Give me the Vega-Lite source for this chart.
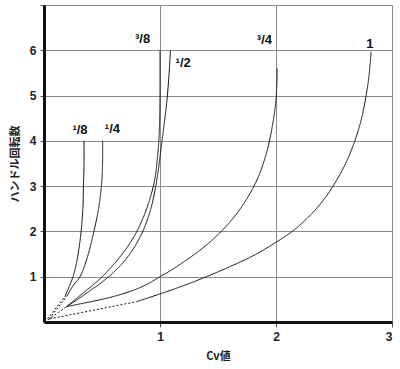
{
  "$schema": "https://vega.github.io/schema/vega-lite/v6.json",
  "width": 348,
  "height": 317,
  "autosize": "none",
  "padding": {"left": 44, "top": 5, "right": 8, "bottom": 47},
  "background": "white",
  "config": {
    "view": {"stroke": "#8a8a8a", "strokeWidth": 1},
    "axis": {
      "grid": true,
      "gridColor": "#8a8a8a",
      "gridWidth": 1,
      "gridOpacity": 1,
      "domainColor": "#111",
      "domainWidth": 3,
      "tickColor": "#555",
      "tickSize": 5,
      "labelFont": "Liberation Sans",
      "labelFontWeight": "bold",
      "labelFontSize": 12,
      "labelColor": "#222",
      "titleFont": "Noto Sans CJK JP",
      "titleFontWeight": "bold",
      "titleFontSize": 11,
      "titleColor": "#222"
    }
  },
  "datasets": {
    "curves": [
      {"series": "1/8", "part": "dotted", "x": 0.03, "y": 0.07},
      {"series": "1/8", "part": "dotted", "x": 0.18, "y": 0.56},
      {"series": "1/8", "part": "solid", "x": 0.18, "y": 0.56},
      {"series": "1/8", "part": "solid", "x": 0.22, "y": 0.8},
      {"series": "1/8", "part": "solid", "x": 0.25, "y": 1.0},
      {"series": "1/8", "part": "solid", "x": 0.28, "y": 1.3},
      {"series": "1/8", "part": "solid", "x": 0.30, "y": 1.6},
      {"series": "1/8", "part": "solid", "x": 0.32, "y": 2.0},
      {"series": "1/8", "part": "solid", "x": 0.335, "y": 2.5},
      {"series": "1/8", "part": "solid", "x": 0.34, "y": 3.0},
      {"series": "1/8", "part": "solid", "x": 0.345, "y": 3.5},
      {"series": "1/8", "part": "solid", "x": 0.345, "y": 4.0},

      {"series": "1/4", "part": "dotted", "x": 0.045, "y": 0.07},
      {"series": "1/4", "part": "dotted", "x": 0.195, "y": 0.56},
      {"series": "1/4", "part": "solid", "x": 0.195, "y": 0.56},
      {"series": "1/4", "part": "solid", "x": 0.25, "y": 0.8},
      {"series": "1/4", "part": "solid", "x": 0.31, "y": 1.0},
      {"series": "1/4", "part": "solid", "x": 0.37, "y": 1.4},
      {"series": "1/4", "part": "solid", "x": 0.43, "y": 2.0},
      {"series": "1/4", "part": "solid", "x": 0.47, "y": 2.5},
      {"series": "1/4", "part": "solid", "x": 0.495, "y": 3.0},
      {"series": "1/4", "part": "solid", "x": 0.505, "y": 3.5},
      {"series": "1/4", "part": "solid", "x": 0.505, "y": 4.0},

      {"series": "3/8", "part": "dotted", "x": 0.035, "y": 0.05},
      {"series": "3/8", "part": "dotted", "x": 0.195, "y": 0.34},
      {"series": "3/8", "part": "solid", "x": 0.195, "y": 0.34},
      {"series": "3/8", "part": "solid", "x": 0.28, "y": 0.52},
      {"series": "3/8", "part": "solid", "x": 0.37, "y": 0.71},
      {"series": "3/8", "part": "solid", "x": 0.46, "y": 0.9},
      {"series": "3/8", "part": "solid", "x": 0.54, "y": 1.1},
      {"series": "3/8", "part": "solid", "x": 0.63, "y": 1.36},
      {"series": "3/8", "part": "solid", "x": 0.72, "y": 1.66},
      {"series": "3/8", "part": "solid", "x": 0.80, "y": 2.0},
      {"series": "3/8", "part": "solid", "x": 0.87, "y": 2.4},
      {"series": "3/8", "part": "solid", "x": 0.92, "y": 2.78},
      {"series": "3/8", "part": "solid", "x": 0.955, "y": 3.15},
      {"series": "3/8", "part": "solid", "x": 0.975, "y": 3.55},
      {"series": "3/8", "part": "solid", "x": 0.99, "y": 4.0},
      {"series": "3/8", "part": "solid", "x": 0.998, "y": 4.6},
      {"series": "3/8", "part": "solid", "x": 1.0, "y": 5.2},
      {"series": "3/8", "part": "solid", "x": 1.0, "y": 6.0},

      {"series": "1/2", "part": "solid", "x": 0.195, "y": 0.34},
      {"series": "1/2", "part": "solid", "x": 0.29, "y": 0.5},
      {"series": "1/2", "part": "solid", "x": 0.39, "y": 0.68},
      {"series": "1/2", "part": "solid", "x": 0.50, "y": 0.88},
      {"series": "1/2", "part": "solid", "x": 0.61, "y": 1.12},
      {"series": "1/2", "part": "solid", "x": 0.71, "y": 1.4},
      {"series": "1/2", "part": "solid", "x": 0.79, "y": 1.7},
      {"series": "1/2", "part": "solid", "x": 0.86, "y": 2.05},
      {"series": "1/2", "part": "solid", "x": 0.915, "y": 2.45},
      {"series": "1/2", "part": "solid", "x": 0.955, "y": 2.88},
      {"series": "1/2", "part": "solid", "x": 0.985, "y": 3.35},
      {"series": "1/2", "part": "solid", "x": 1.01, "y": 3.85},
      {"series": "1/2", "part": "solid", "x": 1.035, "y": 4.35},
      {"series": "1/2", "part": "solid", "x": 1.058, "y": 4.85},
      {"series": "1/2", "part": "solid", "x": 1.076, "y": 5.4},
      {"series": "1/2", "part": "solid", "x": 1.09, "y": 6.0},

      {"series": "3/4", "part": "solid", "x": 0.195, "y": 0.34},
      {"series": "3/4", "part": "solid", "x": 0.35, "y": 0.42},
      {"series": "3/4", "part": "solid", "x": 0.50, "y": 0.50},
      {"series": "3/4", "part": "solid", "x": 0.65, "y": 0.60},
      {"series": "3/4", "part": "solid", "x": 0.80, "y": 0.73},
      {"series": "3/4", "part": "solid", "x": 0.90, "y": 0.85},
      {"series": "3/4", "part": "solid", "x": 1.0, "y": 1.0},
      {"series": "3/4", "part": "solid", "x": 1.1, "y": 1.15},
      {"series": "3/4", "part": "solid", "x": 1.2, "y": 1.32},
      {"series": "3/4", "part": "solid", "x": 1.3, "y": 1.5},
      {"series": "3/4", "part": "solid", "x": 1.4, "y": 1.7},
      {"series": "3/4", "part": "solid", "x": 1.5, "y": 1.93},
      {"series": "3/4", "part": "solid", "x": 1.6, "y": 2.2},
      {"series": "3/4", "part": "solid", "x": 1.7, "y": 2.53},
      {"series": "3/4", "part": "solid", "x": 1.8, "y": 2.95},
      {"series": "3/4", "part": "solid", "x": 1.87, "y": 3.35},
      {"series": "3/4", "part": "solid", "x": 1.93, "y": 3.85},
      {"series": "3/4", "part": "solid", "x": 1.97, "y": 4.35},
      {"series": "3/4", "part": "solid", "x": 2.0, "y": 4.9},
      {"series": "3/4", "part": "solid", "x": 2.01, "y": 5.6},

      {"series": "1", "part": "dotted", "x": 0.05, "y": 0.07},
      {"series": "1", "part": "dotted", "x": 0.80, "y": 0.45},
      {"series": "1", "part": "solid", "x": 0.80, "y": 0.45},
      {"series": "1", "part": "solid", "x": 1.0, "y": 0.62},
      {"series": "1", "part": "solid", "x": 1.2, "y": 0.8},
      {"series": "1", "part": "solid", "x": 1.4, "y": 1.0},
      {"series": "1", "part": "solid", "x": 1.6, "y": 1.22},
      {"series": "1", "part": "solid", "x": 1.8, "y": 1.46},
      {"series": "1", "part": "solid", "x": 2.0, "y": 1.76},
      {"series": "1", "part": "solid", "x": 2.15, "y": 2.02},
      {"series": "1", "part": "solid", "x": 2.3, "y": 2.37},
      {"series": "1", "part": "solid", "x": 2.42, "y": 2.73},
      {"series": "1", "part": "solid", "x": 2.52, "y": 3.12},
      {"series": "1", "part": "solid", "x": 2.6, "y": 3.5},
      {"series": "1", "part": "solid", "x": 2.67, "y": 3.93},
      {"series": "1", "part": "solid", "x": 2.73, "y": 4.42},
      {"series": "1", "part": "solid", "x": 2.77, "y": 4.9},
      {"series": "1", "part": "solid", "x": 2.80, "y": 5.4},
      {"series": "1", "part": "solid", "x": 2.82, "y": 5.97}
    ],
    "labels": [
      {"label": "¹/8", "x": 0.31, "y": 4.25},
      {"label": "¹/4", "x": 0.59, "y": 4.27},
      {"label": "³/8", "x": 0.85, "y": 6.25},
      {"label": "¹/2", "x": 1.20, "y": 5.72},
      {"label": "³/4", "x": 1.90, "y": 6.23},
      {"label": "1", "x": 2.81, "y": 6.14}
    ]
  },
  "layer": [
    {
      "data": {"name": "curves"},
      "mark": {"type": "line", "interpolate": "catmull-rom", "strokeWidth": 1, "color": "#111", "clip": true},
      "encoding": {
        "x": {
          "field": "x", "type": "quantitative",
          "scale": {"domain": [0, 3], "nice": false, "zero": true},
          "axis": {"title": "Cv値", "values": [1, 2, 3], "format": "d", "labelPadding": 4, "titlePadding": 8}
        },
        "y": {
          "field": "y", "type": "quantitative",
          "scale": {"domain": [0, 7], "nice": false},
          "axis": {"title": "ハンドル回転数", "values": [1, 2, 3, 4, 5, 6, 7], "format": "d", "labelExpr": "datum.value == 7 ? '' : datum.label", "tickSize": 4, "labelPadding": 4, "titlePadding": 9}
        },
        "detail": [{"field": "series"}, {"field": "part"}],
        "order": {"field": "y", "type": "quantitative"},
        "strokeDash": {
          "field": "part", "type": "nominal",
          "scale": {"domain": ["solid", "dotted"], "range": [[1, 0], [2, 2]]},
          "legend": null
        }
      }
    },
    {
      "data": {"name": "labels"},
      "mark": {"type": "text", "font": "Liberation Sans", "fontWeight": "bold", "fontSize": 13, "color": "#111", "align": "center", "baseline": "middle"},
      "encoding": {
        "x": {"field": "x", "type": "quantitative"},
        "y": {"field": "y", "type": "quantitative"},
        "text": {"field": "label"}
      }
    }
  ]
}
